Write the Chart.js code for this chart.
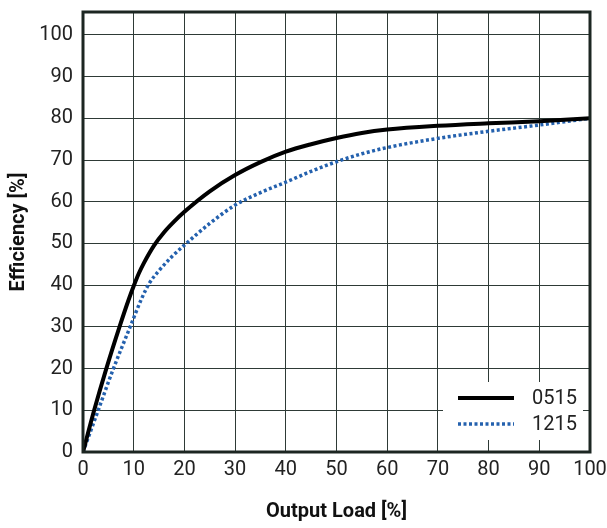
<!DOCTYPE html>
<html>
<head>
<meta charset="utf-8">
<script src="https://cdn.jsdelivr.net/npm/chart.js@4/dist/chart.umd.min.js"></script>
<style>
  html, body { margin: 0; padding: 0; background: #fff; }
  #wrap { width: 607px; height: 528px; }
</style>
</head>
<body>
<div id="wrap"><canvas id="chart"></canvas></div>
<script>
// Output load [%] vs efficiency [%]
const load0515 = [0, 2.2, 4.6, 7.2, 9, 10, 11, 12, 14, 16, 18, 20, 25, 30, 35, 40, 45, 50, 55, 60, 70, 80, 90, 100]
const eff0515 = [0, 10, 20, 30, 36.5, 39.8, 42.8, 45.3, 49.5, 52.7, 55.3, 57.6, 62.5, 66.4, 69.5, 72, 73.8, 75.3, 76.5, 77.3, 78.2, 78.8, 79.3, 80]

const load1215 = [0, 3, 6, 9.3, 11.5, 13, 15, 17.5, 20, 25, 30, 35, 40, 45, 50, 55, 60, 70, 80, 90, 100]
const eff1215 = [0, 10, 20, 30, 36.6, 40.3, 43.5, 46.8, 49.6, 54.8, 59.2, 62.2, 64.7, 67.3, 69.6, 71.5, 73, 75.2, 76.9, 78.4, 80]

const seriesLabels = ['0515', '1215']
const xTitle = 'Output Load [%]'
const yTitle = 'Efficiency [%]'

const tickFont = { family: "Roboto, 'Liberation Sans', sans-serif", size: 20 }
const titleFont = { family: "Roboto, 'Liberation Sans', sans-serif", size: 20, weight: 'bold' }

const toPoints = (xs, ys) => xs.map((x, i) => ({ x: x, y: ys[i] }))

// Frame around the plot and the legend box in the lower right corner
const framePlugin = {
    id: 'frame',
    afterDatasetsDraw(chart) {
        const { ctx, chartArea: a } = chart
        ctx.save()

        // legend
        const bx = a.right - 147, by = a.bottom - 70, bw = 140, bh = 58
        ctx.fillStyle = '#fff'
        ctx.fillRect(bx, by, bw, bh)
        chart.data.datasets.forEach((ds, i) => {
            const ly = by + 16 + i * 26
            ctx.beginPath()
            ctx.strokeStyle = ds.borderColor
            ctx.lineWidth = ds.borderWidth
            ctx.setLineDash(ds.borderDash || [])
            ctx.moveTo(bx + 15, ly)
            ctx.lineTo(bx + 71, ly)
            ctx.stroke()
            ctx.setLineDash([])
            ctx.fillStyle = '#222'
            ctx.font = `${tickFont.size}px ${tickFont.family}`
            ctx.textBaseline = 'middle'
            ctx.fillText(ds.label, bx + 89, ly + 1)
        })

        ctx.strokeStyle = '#1c2622'
        ctx.lineWidth = 3
        ctx.strokeRect(a.left, a.top, a.right - a.left, a.bottom - a.top)
        ctx.restore()
    }
}

const ctx = document.getElementById('chart').getContext('2d')
new Chart(ctx, {
    type: 'line',
    data: {
        datasets: [{
            label: seriesLabels[0],
            data: toPoints(load0515, eff0515),
            borderColor: '#000',
            borderWidth: 4,
            cubicInterpolationMode: 'monotone',
            pointRadius: 0,
            fill: false
        }, {
            label: seriesLabels[1],
            data: toPoints(load1215, eff1215),
            borderColor: '#2461ae',
            borderWidth: 3.5,
            borderDash: [3, 2.5],
            borderCapStyle: 'butt',
            cubicInterpolationMode: 'monotone',
            pointRadius: 0,
            fill: false
        }]
    },
    options: {
        responsive: true,
        maintainAspectRatio: false,
        animation: false,
        layout: { padding: { top: 12, right: 17, left: 0, bottom: 0 } },
        plugins: {
            legend: { display: false },
            tooltip: { enabled: false }
        },
        scales: {
            x: {
                type: 'linear',
                min: 0,
                max: 100,
                afterFit: (scale) => {
                    scale.height = 76
                    scale.paddingLeft = 0
                    scale.paddingRight = 0
                },
                ticks: { stepSize: 10, autoSkip: false, maxRotation: 0, color: '#222', font: tickFont, padding: 6 },
                grid: { color: '#2e3a36', lineWidth: 1, drawTicks: false },
                border: { display: false },
                title: { display: true, text: xTitle, color: '#111', font: titleFont, padding: { top: 14 } }
            },
            y: {
                type: 'linear',
                min: 0,
                max: 105.5,
                afterBuildTicks: (scale) => {
                    scale.ticks = scale.ticks.filter(t => t.value % 10 === 0)
                },
                afterFit: (scale) => {
                    scale.width = 83
                    scale.paddingTop = 0
                    scale.paddingBottom = 0
                },
                ticks: { stepSize: 10, color: '#222', font: tickFont, padding: 10 },
                grid: { color: '#2e3a36', lineWidth: 1, drawTicks: false },
                border: { display: false },
                title: { display: true, text: yTitle, color: '#111', font: titleFont, padding: { top: 7, bottom: 0 } }
            }
        }
    },
    plugins: [framePlugin]
})
</script>
</body>
</html>
